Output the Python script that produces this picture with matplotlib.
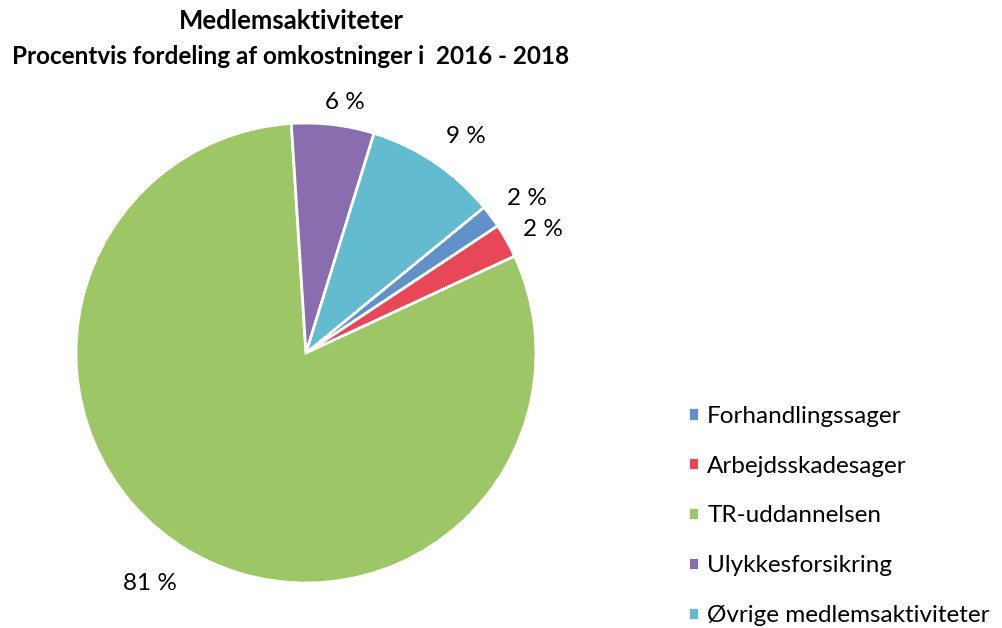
import numpy as np
import matplotlib.pyplot as plt

plt.rcParams['font.family'] = ['Lato', 'DejaVu Sans']

# data
categories = ["Forhandlingssager", "Arbejdsskadesager", "TR-uddannelsen",
              "Ulykkesforsikring", "Øvrige medlemsaktiviteter"]
shares = [1.6, 2.4, 80.9, 5.8, 9.3]
colors = ["#6191C9", "#E84757", "#9DC766", "#896DAE", "#63BBD0"]

# data label placement: distance from centre (radii) and angle nudge (deg)
label_dist = [1.17, 1.16, 1.21, 1.10, 1.17]
label_nudge = [-1.5, -1.7, -3.5, -2.0, -2.5]

W, H = 1003, 628
fig = plt.figure(figsize=(W / 100, H / 100), dpi=100)

# pie axes: center (306, 353) px, radius 230 px
cx, cy, r, lim = 306, 353, 230, 1.3
side = 2 * lim * r
ax = fig.add_axes([(cx - side / 2) / W, (H - cy - side / 2) / H, side / W, side / H])

wedges, texts, autotexts = ax.pie(
    shares,
    colors=colors,
    startangle=39.3,
    counterclock=False,
    radius=1,
    autopct=lambda p: f"{p:.0f} %",
    pctdistance=1.17,
    wedgeprops=dict(edgecolor="white", linewidth=2),
    textprops=dict(fontsize=17.5, color="black"),
)
for w, t, d, n in zip(wedges, autotexts, label_dist, label_nudge):
    mid = np.deg2rad((w.theta1 + w.theta2) / 2 + n)
    t.set_position((d * np.cos(mid), d * np.sin(mid)))

ax.set_xlim(-lim, lim)
ax.set_ylim(-lim, lim)
ax.set_aspect("equal")

fig.text(291 / W, 1 - 21 / H, "Medlemsaktiviteter", ha="center", va="center",
         fontsize=18.5, fontweight="bold")
fig.text(291 / W, 1 - 57 / H, "Procentvis fordeling af omkostninger i  2016 - 2018",
         ha="center", va="center", fontsize=17.5, fontweight="bold")

fig.legend(wedges, categories, loc="center left",
           bbox_to_anchor=(688 / W, 1 - 516 / H),
           frameon=False, fontsize=17.5, handlelength=0.45, handleheight=0.45,
           handletextpad=0.34, labelspacing=1.19, borderpad=0, borderaxespad=0)

fig.savefig("out.png", dpi=100)
